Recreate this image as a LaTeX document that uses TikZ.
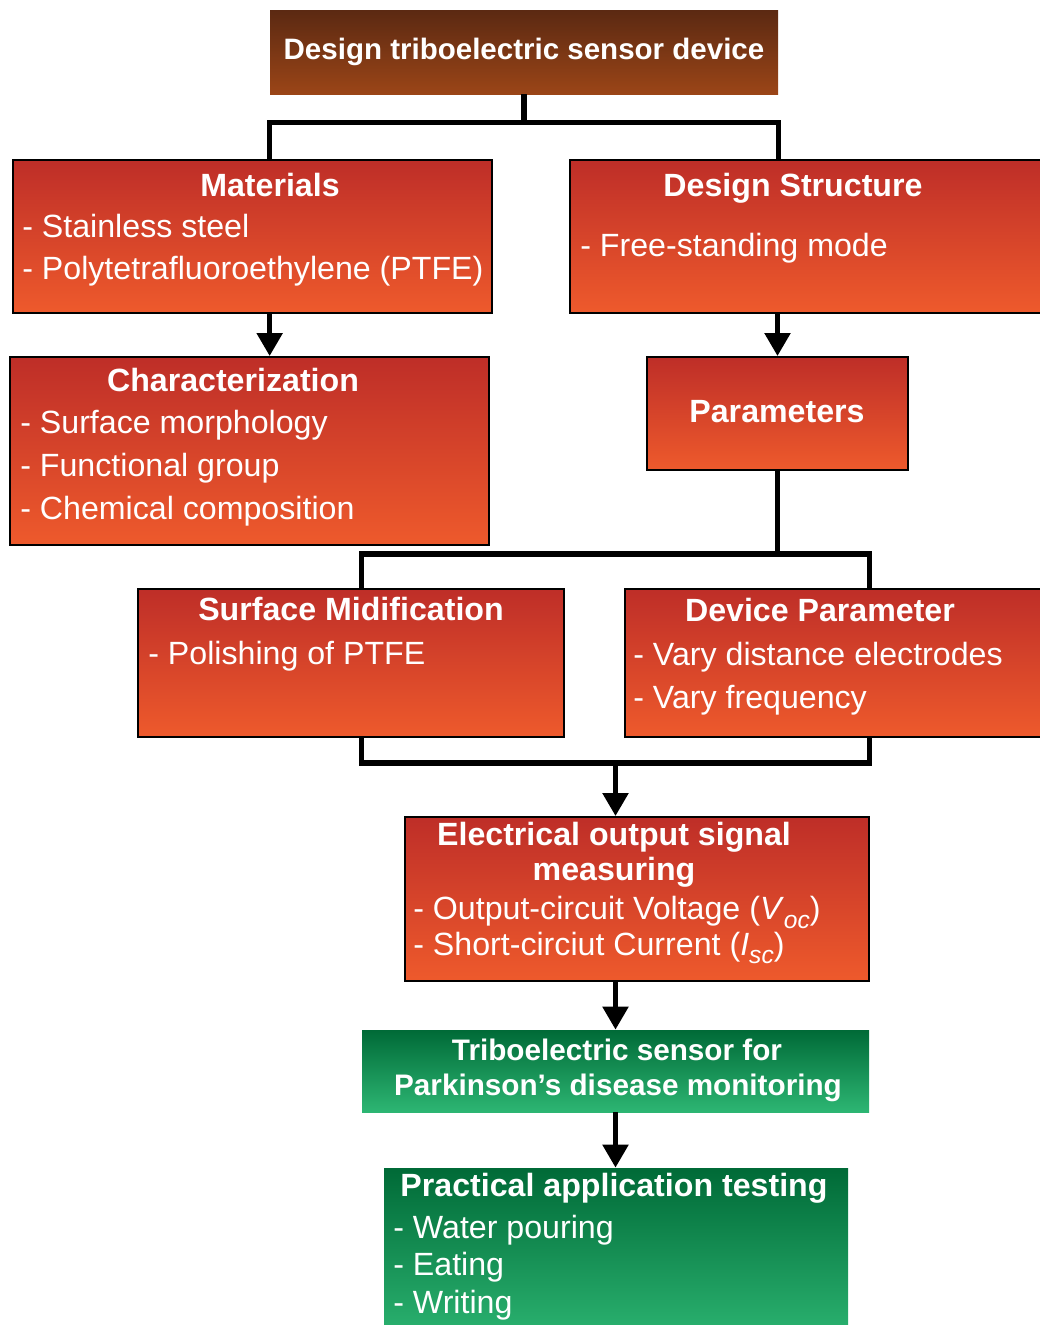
\documentclass[tikz,border=0pt]{standalone}
\usepackage{fontspec}
\setmainfont{Liberation Sans}
\usetikzlibrary{arrows.meta,positioning,fit}
\definecolor{redtop}{HTML}{BE2E28}
\definecolor{redbot}{HTML}{EE5A2C}
\definecolor{browntop}{HTML}{5B2912}
\definecolor{brownbot}{HTML}{9B4517}
\definecolor{greentop}{HTML}{006A37}
\definecolor{greenbot}{HTML}{2DB673}
\tikzset{redbox/.style={draw=black, line width=1.1pt, top color=redtop, bottom color=redbot, inner sep=0pt}}
\tikzset{brownbox/.style={top color=browntop, bottom color=brownbot, inner sep=0pt}}
\tikzset{greenbox/.style={top color=greentop, bottom color=greenbot, inner sep=0pt}}
\tikzset{ttl/.style={text=white, font=\fontsize{18.3}{20.5}\selectfont\bfseries, inner sep=0pt, anchor=base}}
% multi-line items: base anchor sits on the last line
\tikzset{itm/.style={text=white, font=\fontsize{18.3}{23.8}\selectfont, inner sep=0pt, align=left, anchor=base west}}
\tikzset{conn/.style={line width=3pt}}
\tikzset{arr/.style={conn, -{Triangle[width=0.5cm,length=0.46cm]}}}
\newcommand{\lowsub}[1]{\raisebox{-0.5ex}{\fontsize{14}{14}\selectfont\itshape #1}}

\begin{document}
\begin{tikzpicture}[x=0.02cm, y=-0.02cm]
  \useasboundingbox (0,0) rectangle (1040,1325);

  %%%% boxes
  \node[brownbox, fit={(270,10) (778,94)}] (top) {};
  \node[redbox, fit={(13,160) (492,313)}] (mat) {};
  \node[redbox, fit={(570,160) (1055,313)}] (dstr) {};
  \node[redbox, fit={(10,357) (489,545)}] (char) {};
  \node[redbox, fit={(647,357) (908,470)}] (par) {};
  \node[redbox, fit={(138,589) (564,737)}] (smod) {};
  \node[redbox, fit={(625,589) (1055,737)}] (dpar) {};
  \node[redbox, fit={(405,817) (869,981)}] (elec) {};
  \node[greenbox, fit={(362,1030) (869,1112)}] (tribo) {};
  \node[greenbox, fit={(384,1168) (848,1345)}] (prac) {};

  %%%% texts
  \node[ttl, font=\fontsize{16.8}{20}\selectfont\bfseries] (topT) at (524,59) {Design triboelectric sensor device};

  \node[ttl] (matT) at (270,196) {Materials};
  \node[itm] (matI) at (22,279) {- Stainless steel\\- Polytetrafluoroethylene (PTFE)};

  \node[ttl] (dstrT) at (793,196) {Design Structure};
  \node[itm] (dstrI) at (580,256) {- Free-standing mode};

  \node[ttl] (charT) at (233,391) {Characterization};
  \node[itm, font=\fontsize{18.3}{24.2}\selectfont] (charI) at (20,519) {- Surface morphology\\- Functional group\\- Chemical composition};

  \node[ttl] (parT) at (777,422) {Parameters};

  \node[ttl] (smodT) at (351,620) {Surface Midification};
  \node[itm] (smodI) at (148,664) {- Polishing of PTFE};

  \node[ttl] (dparT) at (820,621) {Device Parameter};
  \node[itm, font=\fontsize{18.3}{24.4}\selectfont] (dparI) at (633,708) {- Vary distance electrodes\\- Vary frequency};

  \node[ttl] (elecT1) at (614,845) {Electrical output signal};
  \node[ttl] (elecT2) at (614,880) {measuring};
  \node[itm, font=\fontsize{18.3}{20.2}\selectfont] (elecI) at (413,955)
    {- Output-circuit Voltage (\textit{V}\lowsub{oc})\\- Short-circiut Current (\textit{I}\lowsub{sc})};

  \node[ttl, font=\fontsize{16.9}{20}\selectfont\bfseries] (triboT1) at (617,1060) {Triboelectric sensor for};
  \node[ttl, font=\fontsize{16.9}{20}\selectfont\bfseries] (triboT2) at (618,1095) {Parkinson’s disease monitoring};

  \node[ttl] (pracT) at (614,1196) {Practical application testing};
  \node[itm, font=\fontsize{18.3}{21.3}\selectfont] (pracI) at (393,1313) {- Water pouring\\- Eating\\- Writing};

  %%%% connectors
  \draw[conn] (top.south) -- ++(0,28) coordinate (j1);
  \draw[conn] (mat.north -| top.west) |- (j1) -| (dstr.north -| top.east);
  \draw[arr] (mat.south -| top.west) -- (char.north -| top.west);
  \draw[arr] (dstr.south -| par.north) -- (par.north);

  \draw[conn] (par.south) -- ++(0,83) coordinate (j2);
  \draw[conn] (smod.north -| tribo.west) |- (j2) -| (dpar.north -| tribo.east);

  \draw[conn] (smod.south -| tribo.west) -- ++(0,25) coordinate (j3) -| (dpar.south -| tribo.east);
  \coordinate (j4) at (j3 -| tribo.north);
  \draw[arr] (j4) -- (j4 |- elec.north);

  \draw[arr] (elec.south -| tribo.north) -- (tribo.north);
  \draw[arr] (tribo.south) -- (tribo.south |- prac.north);

\end{tikzpicture}
\end{document}
